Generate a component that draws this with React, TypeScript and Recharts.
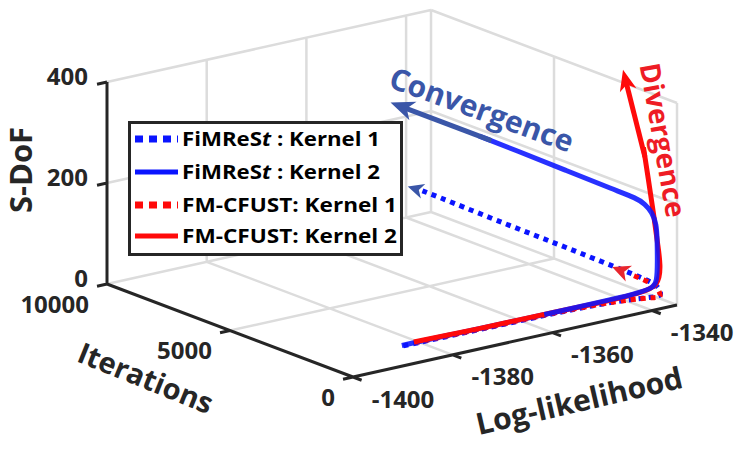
import { ComposedChart, Line, XAxis, YAxis, ReferenceDot } from "recharts";

type P3 = [number, number, number]; // [iteration, log-likelihood, S-DoF]
type Pt = { x: number; y: number | null };

const W = 748;
const H = 454;
const FONT = '"Open Sans", "DejaVu Sans", sans-serif';
const INK = "#262626";
const GRID = "#dcdcdc";
const BLUE = "#0a14ff";
const RED = "#ff0a0a";
const STEEL = "#3a56a8";

const ITER_MAX = 10000;
const LL_MIN = -1400;
const LL_MAX = -1335;
const SDOF_MAX = 400;

const iterTicks = [0, 5000, 10000];
const llTicks = [-1400, -1380, -1360, -1340];
const sdofTicks = [0, 200, 400];

// FiMReSt, kernel 1 (dotted blue)
const fimrestK1: P3[] = [
  [0, -1389.9, 39.5], [10, -1369.7, 37.5], [40, -1349.4, 36], [80, -1339.2, 23.5],
  [120, -1337.4, 21], [250, -1337.4, 36], [600, -1337.4, 41.5], [2000, -1337.2, 42],
  [4300, -1337.2, 44], [7000, -1337.2, 45.5], [9400, -1337.2, 48.5], [10000, -1337.2, 48.5],
];

// FiMReSt, kernel 2 (solid blue)
const fimrestK2: P3[] = [
  [0, -1390.2, 41], [5, -1379.7, 40.5], [15, -1369.6, 39.5], [30, -1359.3, 38.5],
  [60, -1349.4, 38], [100, -1343.3, 37.5], [150, -1339.3, 38.5], [200, -1338.0, 48.5],
  [250, -1337.7, 88], [300, -1337.5, 129], [350, -1337.4, 159], [512, -1337.5, 180],
  [797, -1337.5, 191], [1163, -1337.5, 196], [2000, -1337.6, 196.5], [4000, -1337.7, 199.5],
  [6000, -1337.7, 201.5], [7500, -1337.7, 202.5],
];

// FM-CFUST, kernel 1 (dotted red)
const fmcfustK1: P3[] = [
  [0, -1388.6, 40.5], [10, -1369.5, 38.5], [40, -1349.3, 36.5], [80, -1338.7, 22],
  [130, -1337.4, 18], [300, -1337.5, 36.5], [700, -1337.4, 39], [1400, -1337.4, 40],
];

// FM-CFUST, kernel 2 (solid red)
const fmcfustK2: P3[] = [
  [0, -1387.8, 42.6], [10, -1374.7, 40], [30, -1361.5, 39], [70, -1349.3, 36],
  [120, -1341.8, 36.5], [170, -1337.8, 40.5], [260, -1337.0, 79], [366, -1337.0, 112.5],
  [560, -1337.0, 179], [760, -1337.0, 239], [960, -1337.0, 299],
];

// annotation arrows: [tail, tip]
const convergenceArrow: [P3, P3] = [[7000, -1337.7, 202.3], [11100, -1337.7, 202.5]];
const fimrestK1Arrow: [P3, P3] = [[9800, -1337.2, 48.5], [10500, -1337.2, 46]];
const fmcfustK1Arrow: [P3, P3] = [[1300, -1337.4, 40], [2150, -1337.4, 41]];
const divergenceArrow: [P3, P3] = [[900, -1337.0, 281], [1790, -1337.0, 437]];

// view of the 3-D box on screen
const ORIGIN = { x: 353, y: 377 };
const PER_LL = { x: 4.985, y: -1.108 };
const PER_IT = { x: -0.0246, y: -0.0093 };
const PER_S = -0.505;

function project([it, ll, s]: P3): { x: number; y: number } {
  const l = ll - LL_MIN;
  return {
    x: ORIGIN.x + l * PER_LL.x + it * PER_IT.x,
    y: ORIGIN.y + l * PER_LL.y + it * PER_IT.y + s * PER_S,
  };
}

function seg(a: P3, b: P3): Pt[] {
  const pa = project(a);
  const pb = project(b);
  return [pa, pb, { x: pb.x, y: null }];
}

const gridPts: Pt[] = [
  ...llTicks.slice(1).flatMap((ll) => seg([0, ll, 0], [ITER_MAX, ll, 0])),
  ...seg([5000, LL_MIN, 0], [5000, LL_MAX, 0]),
  ...[...llTicks.slice(1), LL_MAX].flatMap((ll) => seg([ITER_MAX, ll, 0], [ITER_MAX, ll, SDOF_MAX])),
  ...sdofTicks.flatMap((s) => seg([ITER_MAX, LL_MIN, s], [ITER_MAX, LL_MAX, s])),
  ...[0, 5000].flatMap((it) => seg([it, LL_MAX, 0], [it, LL_MAX, SDOF_MAX])),
  ...sdofTicks.flatMap((s) => seg([0, LL_MAX, s], [ITER_MAX, LL_MAX, s])),
];

const axisPts: Pt[] = [
  ...seg([ITER_MAX, LL_MIN, 0], [ITER_MAX, LL_MIN, SDOF_MAX]),
  ...seg([0, LL_MIN, 0], [ITER_MAX, LL_MIN, 0]),
  ...seg([0, LL_MIN, 0], [0, LL_MAX, 0]),
  ...sdofTicks.flatMap((s) => seg([ITER_MAX, LL_MIN, s], [ITER_MAX, LL_MIN - 2, s])),
  ...iterTicks.flatMap((it) => seg([it, LL_MIN, 0], [it, LL_MIN - 2, 0])),
  ...llTicks.flatMap((ll) => seg([0, ll, 0], [-350, ll, 0])),
];

type Arrow = { shaft: Pt[]; tip: { x: number; y: number }; angle: number };

function makeArrow([tail, tipP]: [P3, P3], len: number): Arrow {
  const a = project(tail);
  const b = project(tipP);
  const dx = b.x - a.x;
  const dy = b.y - a.y;
  const d = Math.hypot(dx, dy);
  const k = (d - len * 0.6) / d;
  return {
    shaft: [a, { x: a.x + dx * k, y: a.y + dy * k }],
    tip: b,
    angle: (Math.atan2(dy, dx) * 180) / Math.PI,
  };
}

const conv = makeArrow(convergenceArrow, 24);
const k1Blue = makeArrow(fimrestK1Arrow, 16);
const k1Red = makeArrow(fmcfustK1Arrow, 18);
const div = makeArrow(divergenceArrow, 21);

function Head({ cx, cy, angle, len, wid, color }: any) {
  return (
    <polygon
      points={`0,0 ${-len},${-wid / 2} ${-len * 0.72},0 ${-len},${wid / 2}`}
      transform={`translate(${cx},${cy}) rotate(${angle})`}
      fill={color}
    />
  );
}

function Label({ x, y, text, size, color, angle = 0, anchor = "middle" }: any) {
  return (
    <ReferenceDot
      x={x}
      y={y}
      r={1}
      shape={(p: any) => (
        <text
          x={p.cx}
          y={p.cy}
          transform={angle ? `rotate(${angle},${p.cx},${p.cy})` : undefined}
          textAnchor={anchor}
          dominantBaseline="central"
          fontFamily={FONT}
          fontWeight={700}
          fontSize={size}
          fill={color}
        >
          {text}
        </text>
      )}
    />
  );
}

const toPts = (arr: P3[]) => arr.map(project);

function LegendBox() {
  const rows = [
    { color: BLUE, dash: "8 6", a: "FiMReS", b: "t", c: " : Kernel 1", w: 198 },
    { color: BLUE, dash: undefined, a: "FiMReS", b: "t", c: " : Kernel 2", w: 198 },
    { color: RED, dash: "8 6", a: "FM-CFUST: Kernel 1", b: "", c: "", w: 215 },
    { color: RED, dash: undefined, a: "FM-CFUST: Kernel 2", b: "", c: "", w: 215 },
  ];
  const centers = [18, 51, 84, 115];
  return (
    <svg width={275} height={135} style={{ position: "absolute", left: 128, top: 121 }}>
      <rect x={1.5} y={1.5} width={272} height={132} fill="#fff" stroke={INK} strokeWidth={3} />
      {rows.map((r, i) => (
        <g key={i}>
          <line x1={7} x2={50} y1={centers[i]} y2={centers[i]} stroke={r.color} strokeWidth={r.dash ? 7 : 5} strokeDasharray={r.dash} />
          <text x={54} y={centers[i] + 7} fontFamily={FONT} fontWeight={700} fontSize={20} fill="#000" textLength={r.w} lengthAdjust="spacingAndGlyphs">
            {r.a}
            {r.b && <tspan fontStyle="italic">{r.b}</tspan>}
            {r.c}
          </text>
        </g>
      ))}
    </svg>
  );
}

export default function App() {
  const zTickPts = sdofTicks.map((s) => ({ s, p: project([ITER_MAX, LL_MIN, s]) }));
  const itTickPts = iterTicks.map((it) => ({ it, p: project([it, LL_MIN, 0]) }));
  const llTickPts = llTicks.map((ll) => ({ ll, p: project([0, ll, 0]) }));

  return (
    <div style={{ position: "absolute", left: 0, top: 0, width: W, height: H, background: "#fff" }}>
      <ComposedChart width={W} height={H} margin={{ top: 0, right: 0, bottom: 0, left: 0 }}>
        <XAxis type="number" dataKey="x" domain={[0, W]} allowDataOverflow hide />
        <YAxis type="number" domain={[0, H]} reversed allowDataOverflow hide />

        <Line data={gridPts} dataKey="y" stroke={GRID} strokeWidth={2.5} dot={false} activeDot={false} isAnimationActive={false} type="linear" />
        <Line data={axisPts} dataKey="y" stroke={INK} strokeWidth={3} dot={false} activeDot={false} isAnimationActive={false} type="linear" />

        <Line data={toPts(fimrestK1)} dataKey="y" stroke={BLUE} strokeWidth={5} strokeDasharray="5 5" dot={false} activeDot={false} isAnimationActive={false} type="basis" />
        <Line data={toPts(fmcfustK1)} dataKey="y" stroke={RED} strokeWidth={5} strokeDasharray="5 5" strokeDashoffset={5} dot={false} activeDot={false} isAnimationActive={false} type="basis" />
        {/* the far part of FM-CFUST kernel 2 sits behind FiMReSt kernel 2 */}
        <Line data={toPts(fmcfustK2.slice(2))} dataKey="y" stroke={RED} strokeWidth={5} dot={false} activeDot={false} isAnimationActive={false} type="basis" />
        <Line data={toPts(fimrestK2)} dataKey="y" stroke={BLUE} strokeWidth={5} strokeOpacity={0.88} dot={false} activeDot={false} isAnimationActive={false} type="basis" />
        <Line data={toPts(fmcfustK2.slice(0, 3))} dataKey="y" stroke={RED} strokeWidth={5} dot={false} activeDot={false} isAnimationActive={false} type="linear" />

        <Line data={conv.shaft} dataKey="y" stroke={STEEL} strokeWidth={5} dot={false} activeDot={false} isAnimationActive={false} type="linear" />
        <Line data={div.shaft} dataKey="y" stroke={RED} strokeWidth={5} dot={false} activeDot={false} isAnimationActive={false} type="linear" />

        <ReferenceDot x={conv.tip.x} y={conv.tip.y} r={1} shape={(p: any) => <Head cx={p.cx} cy={p.cy} angle={conv.angle} len={24} wid={20} color={STEEL} />} />
        <ReferenceDot x={k1Blue.tip.x} y={k1Blue.tip.y} r={1} shape={(p: any) => <Head cx={p.cx} cy={p.cy} angle={k1Blue.angle} len={16} wid={15} color={STEEL} />} />
        <ReferenceDot x={k1Red.tip.x} y={k1Red.tip.y} r={1} shape={(p: any) => <Head cx={p.cx} cy={p.cy} angle={k1Red.angle} len={18} wid={17} color="#e8262e" />} />
        <ReferenceDot x={div.tip.x} y={div.tip.y} r={1} shape={(p: any) => <Head cx={p.cx} cy={p.cy} angle={div.angle} len={21} wid={17} color={RED} />} />

        {zTickPts.map(({ s, p }) => (
          <Label key={`z${s}`} x={p.x - 19} y={p.y - 6.5} text={String(s)} size={24} color={INK} anchor="end" />
        ))}
        {itTickPts.map(({ it, p }) => (
          <Label key={`i${it}`} x={p.x - 18} y={p.y + 19} text={String(it)} size={24} color={INK} anchor="end" />
        ))}
        {llTickPts.map(({ ll, p }) => (
          <Label key={`l${ll}`} x={p.x + 50} y={p.y + 21} text={String(ll)} size={24} color={INK} />
        ))}

        <Label x={20} y={170} text="S-DoF" size={31} color={INK} angle={-90} />
        <Label x={146} y={377} text="Iterations" size={29} color={INK} angle={22} />
        <Label x={579} y={400} text="Log-likelihood" size={30} color={INK} angle={-13} />
        <Label x={482} y={109} text="Convergence" size={30} color={STEEL} angle={20} />
        <Label x={664} y={140} text="Divergence" size={28} color="#ee1c25" angle={80} />
      </ComposedChart>
      <LegendBox />
    </div>
  );
}
